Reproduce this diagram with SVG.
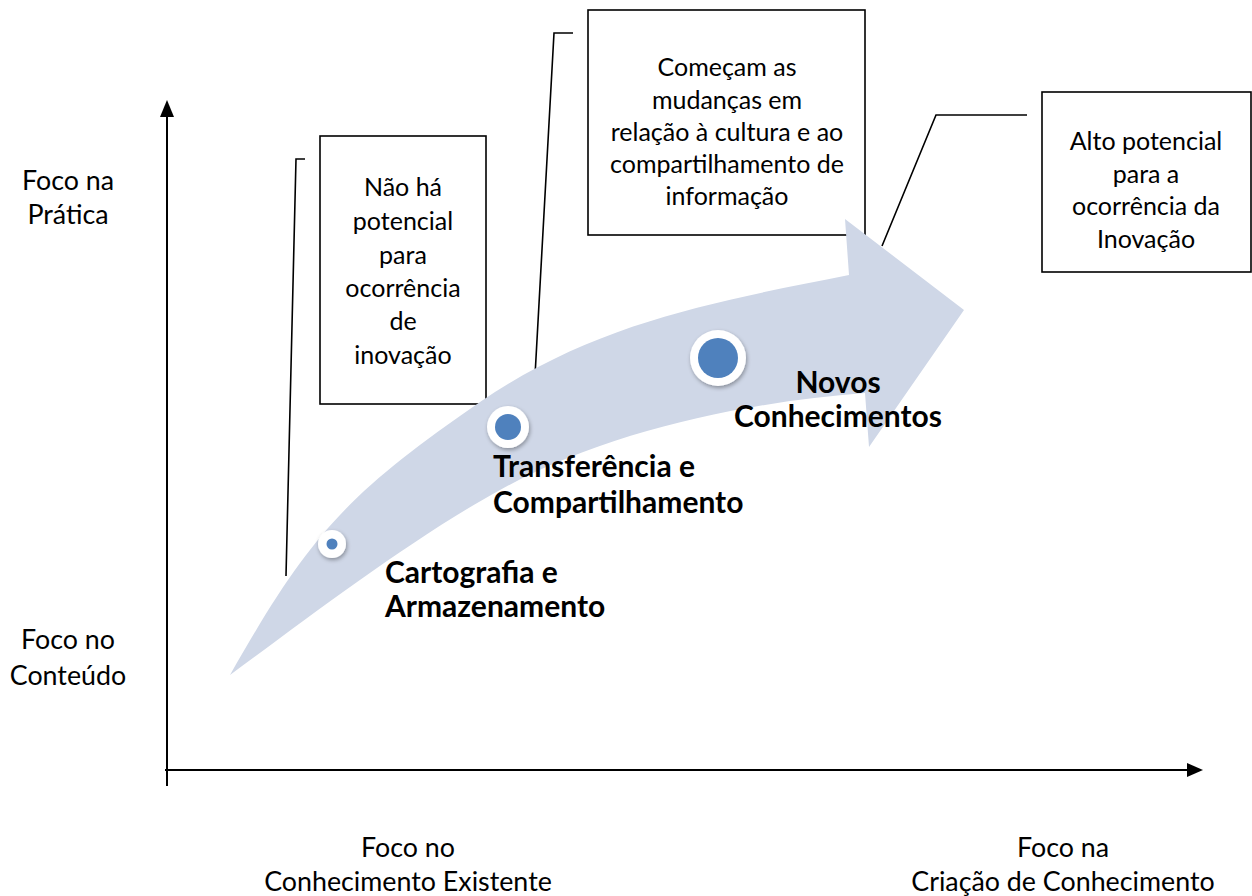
<svg xmlns="http://www.w3.org/2000/svg" width="1252" height="896" viewBox="0 0 1252 896">
<defs>
<style>
.t{font-family:Lato,"Open Sans","Liberation Sans",sans-serif;font-size:25px;fill:#000;text-anchor:middle}
.a{font-family:Lato,"Open Sans","Liberation Sans",sans-serif;font-size:26.8px;fill:#000;text-anchor:middle}
.b{font-family:Lato,"Open Sans","Liberation Sans",sans-serif;font-size:30px;font-weight:bold;fill:#000}
.box{fill:#fff;stroke:#000;stroke-width:1.6}
.ld{fill:none;stroke:#000;stroke-width:1.6}
.ax{stroke:#000;stroke-width:2;fill:none}
.ring{fill:#fff;filter:url(#sh)}
.dot{fill:#4f81bd}
</style>
<filter id="sh" x="-50%" y="-50%" width="200%" height="200%">
<feGaussianBlur in="SourceAlpha" stdDeviation="2"/>
<feOffset dx="1" dy="2" result="o"/>
<feComponentTransfer><feFuncA type="linear" slope="0.35"/></feComponentTransfer>
<feMerge><feMergeNode/><feMergeNode in="SourceGraphic"/></feMerge>
</filter>
</defs>
<rect width="1252" height="896" fill="#fff"/>

<g id="axes">
<line class="ax" x1="167" y1="115" x2="167" y2="786"/>
<polygon points="167,100 160,117 174,117" fill="#000"/>
<line class="ax" x1="165" y1="770" x2="1189" y2="770"/>
<polygon points="1203,770 1187,763 1187,777" fill="#000"/>
</g>

<g id="connectors">
<polyline class="ld" points="305,159 296,159 286,576"/>
<polyline class="ld" points="573,33 554,33 535,376"/>
<polyline class="ld" points="1027,115 936,115 882,246"/>
</g>

<g id="box1">
<rect class="box" x="320" y="136" width="166" height="268"/>
<text class="t" x="403" y="196">Não há</text>
<text class="t" x="403" y="230">potencial</text>
<text class="t" x="403" y="264">para</text>
<text class="t" x="403" y="297">ocorrência</text>
<text class="t" x="403" y="330">de</text>
<text class="t" x="403" y="364">inovação</text>
</g>

<g id="box2">
<rect class="box" x="588" y="10" width="277" height="225"/>
<text class="t" x="727" y="76">Começam as</text>
<text class="t" x="727" y="109">mudanças em</text>
<text class="t" x="727" y="141">relação à cultura e ao</text>
<text class="t" x="727" y="173">compartilhamento de</text>
<text class="t" x="727" y="205">informação</text>
</g>

<g id="box3">
<rect class="box" x="1042" y="92" width="209" height="180"/>
<text class="t" x="1146" y="150">Alto potencial</text>
<text class="t" x="1146" y="183">para a</text>
<text class="t" x="1146" y="215">ocorrência da</text>
<text class="t" x="1146" y="248">Inovação</text>
</g>

<g id="arrow">
<path fill="#cfd7e7" d="M230,675 C310,534 348,493 480,402 C595,323 713,302 849,275 L845,219 L964,310 L869,447 L865,393 C745,402 605,432 500,490 C412,538 305,620 230,675 Z"/>
</g>

<g id="stage1">
<circle class="ring" cx="332" cy="544" r="14"/>
<circle class="dot" cx="332" cy="544" r="5.5"/>
<text class="b" x="385" y="583">Cartografia e</text>
<text class="b" x="385" y="617">Armazenamento</text>
</g>

<g id="stage2">
<circle class="ring" cx="508" cy="427" r="21"/>
<circle class="dot" cx="508" cy="427" r="13"/>
<text class="b" x="493" y="477">Transferência e</text>
<text class="b" x="493" y="513">Compartilhamento</text>
</g>

<g id="stage3">
<circle class="ring" cx="718" cy="358" r="28"/>
<circle class="dot" cx="718" cy="358" r="20"/>
<text class="b" x="838" y="393" text-anchor="middle">Novos</text>
<text class="b" x="838" y="427" text-anchor="middle">Conhecimentos</text>
</g>

<g id="labels">
<text class="a" x="68" y="190">Foco na</text>
<text class="a" x="68" y="224">Prática</text>
<text class="a" x="68" y="649">Foco no</text>
<text class="a" x="68" y="685">Conteúdo</text>
<text class="a" x="408" y="857">Foco no</text>
<text class="a" x="408" y="891">Conhecimento Existente</text>
<text class="a" x="1063" y="857">Foco na</text>
<text class="a" x="1063" y="891">Criação de Conhecimento</text>
</g>
</svg>
